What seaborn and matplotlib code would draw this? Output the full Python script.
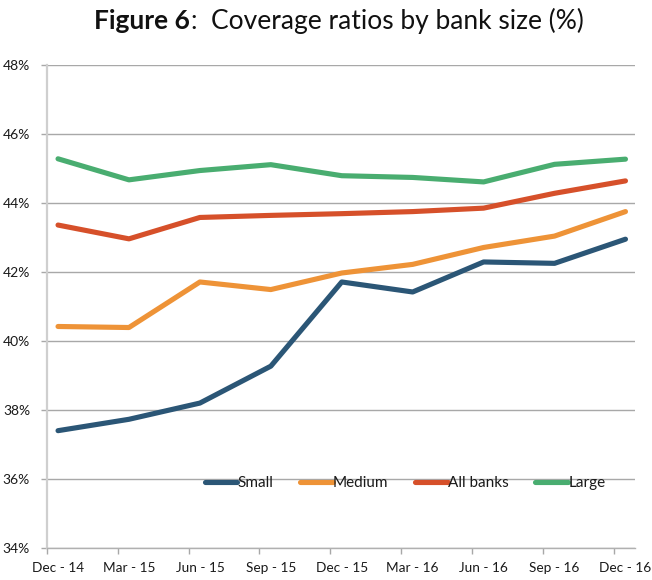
import matplotlib
matplotlib.use("Agg")
import matplotlib.pyplot as plt
import seaborn as sns
import pandas as pd
import numpy as np
from matplotlib.ticker import FixedLocator, FuncFormatter

# Quarterly coverage ratios (%) by bank size
quarters = ["Dec - 14", "Mar - 15", "Jun - 15", "Sep - 15", "Dec - 15",
            "Mar - 16", "Jun - 16", "Sep - 16", "Dec - 16"]
small = [37.40, 37.73, 38.20, 39.27, 41.71, 41.42, 42.29, 42.25, 42.95]
medium = [40.42, 40.39, 41.71, 41.49, 41.97, 42.22, 42.71, 43.04, 43.75]
all_banks = [43.36, 42.96, 43.58, 43.64, 43.69, 43.75, 43.85, 44.28, 44.64]
large = [45.28, 44.67, 44.94, 45.11, 44.79, 44.74, 44.61, 45.12, 45.27]

series_names = ["Small", "Medium", "All banks", "Large"]
colors = ["#2B5676", "#EE9337", "#D6502A", "#49AD70"]

df = pd.concat([
    pd.DataFrame({"idx": np.arange(len(quarters)), "value": vals, "series": name})
    for name, vals in zip(series_names, [small, medium, all_banks, large])
])

sns.set_style("white")
plt.rcParams["font.family"] = ["Lato", "DejaVu Sans"]

fig = plt.figure(figsize=(6.52, 5.80), dpi=100)
ax = fig.add_axes([0.0716, 0.0552, 0.9024, 0.8328])

sns.lineplot(data=df, x="idx", y="value", hue="series", hue_order=series_names,
             palette=dict(zip(series_names, colors)), linewidth=3.7,
             solid_capstyle="round", ax=ax, legend=True)

ax.set_xlim(-0.16, 8.135)
ax.set_ylim(34, 48)

# horizontal gridlines every 2%
yt = np.arange(34, 48.1, 2)
ax.set_yticks(yt)
ax.yaxis.set_major_formatter(FuncFormatter(lambda v, p: f"{v:.0f}%"))
ax.yaxis.grid(True, color="#A8A8A8", linewidth=1.0)
ax.set_axisbelow(True)
ax.tick_params(axis="y", length=4, width=1, color="#A8A8A8", pad=8,
               labelsize=10, labelcolor="#1a1a1a", left=True)

# category labels at the points, tick marks offset to the category edges
ax.set_xticks(np.arange(len(quarters)))
ax.set_xticklabels(quarters)
ax.tick_params(axis="x", length=0, pad=10, labelsize=9.8, labelcolor="#1a1a1a")
ax.xaxis.set_minor_locator(FixedLocator(np.arange(len(quarters)) - 0.16))
ax.tick_params(axis="x", which="minor", length=4, width=1, color="#A8A8A8", bottom=True)

for s in ["top", "right"]:
    ax.spines[s].set_visible(False)
ax.spines["left"].set_color("#CFCFCF")
ax.spines["left"].set_linewidth(1.6)
ax.spines["bottom"].set_color("#B0B0B0")
ax.spines["bottom"].set_linewidth(1.0)

ax.set_xlabel("")
ax.set_ylabel("")

leg = ax.legend(ncol=4, loc="center", bbox_to_anchor=(0.609, 0.1346), frameon=False,
                handlelength=2.15, handletextpad=0.0, columnspacing=1.75,
                fontsize=11)
for t in leg.get_texts():
    t.set_color("#1a1a1a")

# title: bold figure number followed by regular text, centred as one line
title_y = 0.964
t1 = fig.text(0, title_y, "Figure 6", fontsize=19, fontweight="bold", ha="left",
              va="center", color="#111111")
t2 = fig.text(0, title_y, ":  Coverage ratios by bank size (%)", fontsize=19, ha="left",
              va="center", color="#111111")
fig.canvas.draw()
r = fig.canvas.get_renderer()
w1 = t1.get_window_extent(r).width / fig.bbox.width
w2 = t2.get_window_extent(r).width / fig.bbox.width
x0 = 0.519 - (w1 + w2) / 2
t1.set_x(x0)
t2.set_x(x0 + w1 + 0.002)

fig.savefig("out.png", dpi=100)
